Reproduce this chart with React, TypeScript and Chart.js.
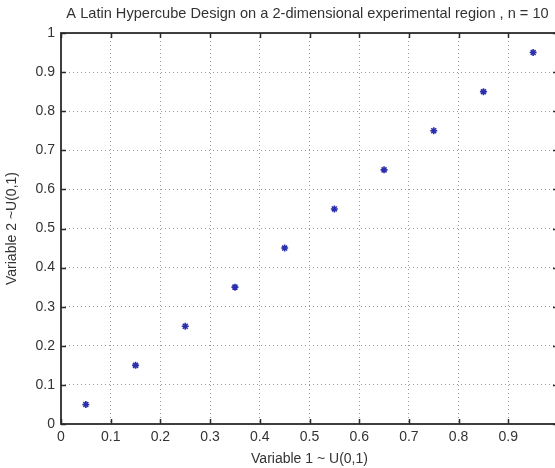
import React, { useEffect, useRef } from "react";
import { Chart, registerables } from "chart.js";

Chart.register(...registerables);

const titleText = "A Latin Hypercube Design on a 2-dimensional experimental region , n = 10";
const xAxisTitle = "Variable 1 ~ U(0,1)";
const yAxisTitle = "Variable 2 ~U(0,1)";

const variable1 = [0.05, 0.15, 0.25, 0.35, 0.45, 0.55, 0.65, 0.75, 0.85, 0.95];
const variable2 = [0.05, 0.15, 0.25, 0.35, 0.45, 0.55, 0.65, 0.75, 0.85, 0.95];

const axisMin = 0;
const axisMax = 1;
const axisStep = 0.1;

const FONT = "'Liberation Sans', Arial, Helvetica, sans-serif";
const TEXT = "#333";

const boxPlugin = {
  id: "matlabBox",
  afterLayout(chart: any) {
    // centre the title over the plotting box (as MATLAB does)
    const tb = chart.titleBlock;
    const { left, right } = chart.chartArea;
    if (tb) {
      const c = (left + right) / 2 - 2;
      const half = (right - left) / 2;
      tb.left = c - half;
      tb.right = c + half;
    }
  },
  beforeDatasetsDraw(chart: any) {
    const { ctx, chartArea, scales } = chart;
    const { left, right, top, bottom } = chartArea;
    ctx.save();
    ctx.strokeStyle = "#2a2a2a";
    ctx.lineWidth = 1.5;
    const tl = 5;
    ctx.beginPath();
    for (const t of scales.x.ticks) {
      const px = Math.round(scales.x.getPixelForValue(t.value)) + 0.5;
      ctx.moveTo(px, bottom);
      ctx.lineTo(px, bottom - tl);
      ctx.moveTo(px, top);
      ctx.lineTo(px, top + tl);
    }
    for (const t of scales.y.ticks) {
      const py = Math.round(scales.y.getPixelForValue(t.value)) + 0.5;
      ctx.moveTo(left, py);
      ctx.lineTo(left + tl, py);
      ctx.moveTo(right, py);
      ctx.lineTo(right - tl, py);
    }
    ctx.stroke();
    ctx.lineWidth = 1.8;
    ctx.strokeRect(left, top, right - left, bottom - top);
    ctx.restore();
  },
};

const gridColor = (c: any) =>
  c.tick && (c.tick.value <= axisMin + 1e-9 || c.tick.value >= axisMax - 1e-9) ? "rgba(0,0,0,0)" : "#9a9a9a";

const fmt = (v: any) => String(Number(Number(v).toFixed(1)));

export default function App() {
  const ref = useRef<HTMLCanvasElement | null>(null);

  useEffect(() => {
    if (!ref.current) return;
    const chart = new Chart(ref.current, {
      type: "scatter",
      data: {
        datasets: [
          {
            data: variable1.map((x, i) => ({ x, y: variable2[i] })),
            pointStyle: "star",
            radius: 3.5,
            borderColor: "#2b2fae",
            backgroundColor: "#2b2fae",
            borderWidth: 1.6,
            showLine: false,
          },
        ],
      },
      plugins: [boxPlugin],
      options: {
        responsive: false,
        animation: false,
        layout: { padding: { left: 0, right: 22, top: 0, bottom: 0 } },
        plugins: {
          legend: { display: false },
          tooltip: { enabled: false },
          title: {
            display: true,
            text: titleText,
            align: "center",
            color: TEXT,
            font: { family: FONT, size: 14.6, weight: "normal" },
            padding: { top: 5, bottom: 10.5 },
          },
        },
        scales: {
          x: {
            type: "linear",
            min: axisMin,
            max: axisMax,
            afterFit: (s: any) => {
              s.height = 44;
            },
            ticks: {
              stepSize: axisStep,
              color: TEXT,
              padding: 5,
              maxRotation: 0,
              font: { family: FONT, size: 14 },
              callback: fmt,
            },
            grid: { color: gridColor, lineWidth: 1, drawTicks: false },
            border: { display: false, dash: [1, 3] },
            title: {
              display: true,
              text: xAxisTitle,
              color: TEXT,
              font: { family: FONT, size: 14 },
              padding: { top: 4, bottom: 0 },
            },
          },
          y: {
            type: "linear",
            min: axisMin,
            max: axisMax,
            afterFit: (s: any) => {
              s.width = 61;
            },
            ticks: {
              stepSize: axisStep,
              color: TEXT,
              padding: 6,
              font: { family: FONT, size: 14 },
              callback: fmt,
            },
            grid: { color: gridColor, lineWidth: 1, drawTicks: false },
            border: { display: false, dash: [1, 3] },
            title: {
              display: true,
              text: yAxisTitle,
              color: TEXT,
              font: { family: FONT, size: 14 },
              padding: { top: 4, bottom: 0 },
            },
          },
        },
      },
    });
    return () => chart.destroy();
  }, []);

  return (
    <div
      style={{
        position: "fixed",
        left: 0,
        top: 0,
        width: 555,
        height: 468,
        overflow: "hidden",
        background: "#fff",
      }}
    >
      <canvas ref={ref} width={580} height={468} style={{ display: "block", width: 580, height: 468 }} />
    </div>
  );
}
